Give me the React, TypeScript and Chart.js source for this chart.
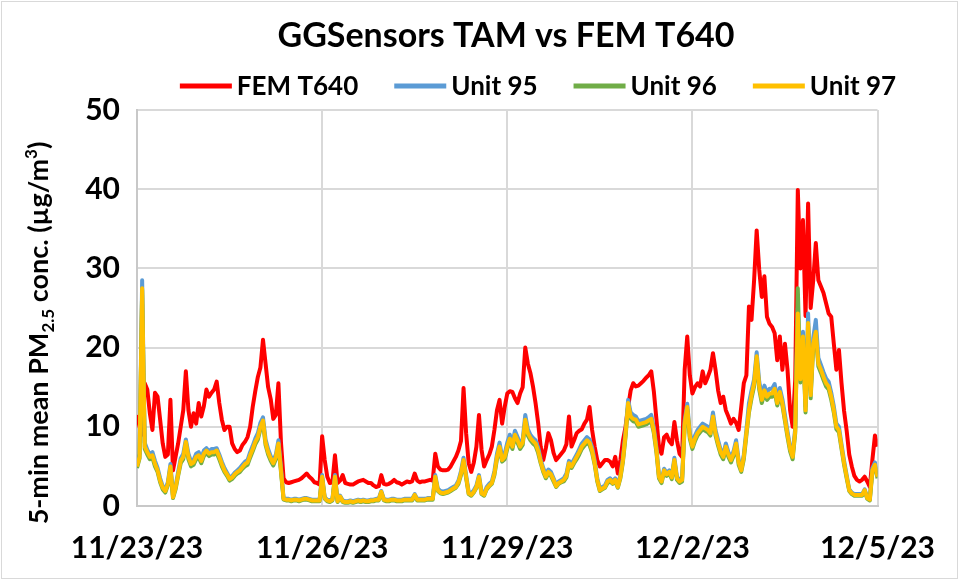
import React, { useEffect, useRef } from "react";
import { Chart, registerables } from "chart.js";

Chart.register(...registerables);

const FONT = "Lato, 'Open Sans', 'DejaVu Sans', sans-serif";
const TITLE = "GGSensors TAM vs FEM T640";
const SERIES_LABELS = ["FEM T640", "Unit 95", "Unit 96", "Unit 97"];
const SERIES_COLORS = ["#FF0000", "#5B9BD5", "#70AD47", "#FFC000"];
const X_TICK_DAYS = [0, 3, 6, 9, 12];
const X_TICK_LABELS = ["11/23/23", "11/26/23", "11/29/23", "12/2/23", "12/5/23"];
const Y_TICKS = [0, 10, 20, 30, 40, 50];
const HOURS_PER_DAY = 24;

// Hourly readings starting 11/23/23 00:00 (µg/m³)
const femT640 = [
  11.5, 10.0, 9.0, 15.5, 14.7, 11.7, 9.6, 14.3, 13.8, 10.9, 7.9, 6.2, 6.5, 13.4, 4.5, 6.2, 7.9, 10.0, 12.1, 17.0, 12.1, 10.0, 11.7, 10.4,
  13.0, 11.3, 12.6, 14.7, 13.8, 14.3, 14.7, 15.7, 13.0, 10.9, 9.6, 10.0, 10.0, 7.9, 7.2, 6.8, 7.0, 7.7, 8.1, 8.7, 10.0, 12.5, 14.5, 16.3,
  17.5, 21.0, 18.0, 15.0, 13.5, 11.0, 11.5, 15.5, 8.0, 3.5, 3.0, 2.9, 3.0, 3.1, 3.2, 3.3, 3.5, 3.8, 4.1, 3.7, 3.4, 3.0, 2.9, 2.7,
  8.8, 5.8, 3.7, 2.9, 3.0, 6.4, 2.9, 3.2, 3.9, 2.9, 2.8, 2.7, 2.7, 2.9, 3.1, 3.2, 3.3, 3.1, 2.9, 2.9, 2.6, 2.4, 2.5, 3.9,
  2.8, 2.7, 2.8, 3.0, 3.3, 3.0, 2.9, 2.7, 2.9, 3.1, 3.0, 3.1, 4.1, 3.2, 3.0, 3.1, 3.1, 3.2, 3.3, 3.2, 6.6, 5.0, 4.6, 4.5,
  4.5, 4.6, 5.0, 5.6, 6.2, 7.0, 8.2, 14.9, 9.2, 5.4, 4.3, 5.5, 7.5, 11.5, 7.1, 5.0, 5.8, 6.5, 7.5, 9.6, 12.1, 13.4, 10.4, 12.5,
  14.2, 14.5, 14.4, 13.6, 13.0, 14.2, 15.0, 20.0, 18.0, 16.8, 15.1, 13.0, 10.5, 7.5, 5.8, 7.3, 9.2, 8.3, 6.7, 5.8, 6.2, 6.6, 7.0, 7.8,
  11.3, 7.5, 8.3, 9.2, 9.5, 9.7, 10.4, 10.9, 12.5, 9.6, 7.5, 5.8, 5.0, 5.4, 5.8, 5.8, 5.6, 5.0, 6.2, 4.1, 5.8, 8.3, 10.0, 12.5,
  14.6, 15.5, 15.1, 15.2, 15.5, 15.8, 16.2, 16.5, 17.0, 14.5, 11.0, 7.5, 6.6, 8.7, 9.0, 8.2, 7.8, 10.6, 8.3, 6.6, 6.2, 17.2, 21.4, 16.5,
  14.2, 15.0, 15.5, 15.1, 17.0, 15.5, 16.3, 17.2, 19.3, 17.2, 14.6, 13.0, 13.8, 12.1, 11.3, 10.4, 11.0, 10.5, 9.6, 12.5, 15.5, 16.5, 25.2, 23.5,
  28.5, 34.8, 29.8, 26.4, 29.0, 23.9, 23.0, 22.6, 21.8, 18.4, 21.4, 17.2, 20.5, 17.2, 12.1, 10.0, 16.0, 39.9, 30.0, 36.1, 24.0, 38.2, 25.0, 28.5,
  33.2, 28.5, 27.7, 26.9, 25.6, 24.3, 23.9, 20.5, 17.2, 19.7, 15.5, 12.0, 9.5, 6.5, 5.0, 3.8, 3.3, 3.1, 3.3, 3.7, 3.1, 2.4, 5.8, 8.9,
  7.5,
];

const unit95 = [
  5.4, 6.6, 28.5, 8.0, 7.1, 6.5, 6.8, 5.7, 4.8, 3.5, 2.5, 2.1, 3.0, 5.3, 1.3, 2.5, 4.3, 6.0, 6.6, 8.4, 6.6, 5.6, 5.8, 6.6,
  6.8, 6.0, 7.0, 7.3, 6.9, 7.2, 7.2, 7.3, 6.5, 5.6, 4.8, 4.2, 3.6, 3.8, 4.2, 4.5, 4.8, 5.2, 5.6, 5.8, 6.8, 7.6, 8.5, 9.2,
  10.5, 11.2, 8.4, 7.2, 6.3, 5.7, 6.5, 8.3, 4.8, 1.0, 0.9, 0.9, 0.8, 0.9, 0.9, 0.8, 0.9, 1.0, 1.0, 0.9, 0.8, 0.8, 0.8, 0.8,
  3.9, 1.1, 0.8, 0.7, 0.9, 3.9, 0.7, 1.3, 0.7, 0.6, 0.6, 0.7, 0.6, 0.7, 0.8, 0.7, 0.8, 0.7, 0.7, 0.8, 0.8, 0.9, 0.9, 1.9,
  0.9, 0.8, 0.8, 0.9, 0.9, 0.8, 0.8, 0.8, 0.9, 0.9, 0.9, 0.9, 1.5, 0.9, 0.9, 0.9, 0.9, 1.0, 1.0, 1.0, 3.9, 2.2, 1.9, 1.8,
  1.9, 2.0, 2.2, 2.4, 2.6, 3.2, 4.4, 6.1, 3.9, 1.8, 1.6, 2.0, 2.6, 3.9, 1.8, 1.6, 2.4, 2.8, 3.1, 4.4, 6.6, 8.0, 6.2, 6.6,
  8.0, 9.0, 7.9, 9.5, 8.7, 7.9, 8.4, 11.5, 9.7, 9.0, 8.6, 8.3, 7.4, 5.9, 4.8, 4.0, 4.6, 4.3, 3.5, 2.7, 3.1, 3.3, 3.5, 4.1,
  5.7, 5.3, 5.9, 6.5, 7.2, 7.9, 8.3, 8.7, 8.4, 7.4, 5.7, 3.5, 2.2, 2.4, 2.6, 3.3, 3.5, 3.1, 3.5, 2.6, 3.9, 6.1, 9.4, 13.4,
  11.8, 11.5, 11.3, 10.7, 10.8, 10.9, 11.0, 11.2, 11.5, 9.9, 7.4, 3.9, 3.3, 4.7, 4.2, 4.5, 3.8, 6.1, 3.7, 3.3, 3.5, 10.8, 12.9, 9.2,
  7.9, 8.9, 9.6, 10.0, 10.4, 10.2, 10.0, 9.6, 11.8, 9.6, 8.3, 7.1, 6.5, 7.9, 6.8, 6.1, 6.9, 8.3, 5.8, 4.8, 6.5, 9.6, 13.0, 14.6,
  16.0, 19.4, 15.7, 13.9, 15.2, 14.3, 14.8, 14.8, 15.4, 13.5, 14.9, 13.5, 11.5, 9.4, 7.5, 6.5, 9.9, 25.0, 16.6, 22.0, 12.6, 24.3, 14.6, 21.2,
  23.5, 18.7, 17.8, 16.9, 16.1, 15.7, 14.3, 12.6, 10.4, 10.0, 7.8, 5.7, 3.9, 2.1, 1.7, 1.5, 1.5, 1.5, 1.5, 2.1, 1.1, 0.9, 4.8, 5.5,
  4.0,
];

const unit96 = [
  4.8, 6.0, 27.3, 7.2, 6.5, 5.9, 6.1, 5.0, 4.3, 3.0, 2.1, 1.7, 2.6, 4.8, 1.0, 2.1, 3.8, 5.4, 5.9, 7.8, 5.9, 5.0, 5.2, 5.9,
  6.1, 5.4, 6.3, 6.7, 6.3, 6.5, 6.5, 6.7, 5.9, 5.0, 4.3, 3.8, 3.2, 3.4, 3.8, 4.1, 4.3, 4.7, 5.0, 5.2, 6.1, 6.9, 7.8, 8.4,
  9.7, 10.5, 7.7, 6.5, 5.7, 5.1, 5.9, 7.6, 4.3, 0.8, 0.7, 0.7, 0.6, 0.7, 0.7, 0.6, 0.7, 0.8, 0.8, 0.7, 0.6, 0.6, 0.6, 0.6,
  3.5, 0.9, 0.6, 0.5, 0.7, 3.5, 0.5, 1.1, 0.5, 0.4, 0.4, 0.5, 0.4, 0.5, 0.6, 0.5, 0.6, 0.5, 0.5, 0.6, 0.6, 0.7, 0.7, 1.7,
  0.7, 0.6, 0.6, 0.7, 0.7, 0.6, 0.6, 0.6, 0.7, 0.7, 0.7, 0.7, 1.3, 0.7, 0.7, 0.7, 0.7, 0.8, 0.8, 0.8, 3.5, 1.9, 1.6, 1.5,
  1.6, 1.7, 1.9, 2.1, 2.3, 2.8, 3.9, 5.6, 3.5, 1.5, 1.3, 1.7, 2.3, 3.5, 1.5, 1.3, 2.1, 2.5, 2.8, 3.9, 5.9, 7.2, 5.6, 5.9,
  7.2, 8.2, 7.2, 8.7, 8.0, 7.2, 7.7, 10.6, 8.9, 8.3, 7.9, 7.6, 6.7, 5.4, 4.3, 3.5, 4.1, 3.8, 3.1, 2.4, 2.8, 3.0, 3.1, 3.6,
  5.2, 4.8, 5.4, 5.9, 6.5, 7.2, 7.6, 8.0, 7.7, 6.7, 5.2, 3.1, 1.9, 2.1, 2.3, 2.9, 3.1, 2.8, 3.1, 2.3, 3.5, 5.6, 8.7, 12.7,
  11.0, 10.7, 10.6, 10.0, 10.1, 10.2, 10.3, 10.5, 10.7, 9.2, 6.8, 3.5, 2.9, 4.3, 3.8, 4.1, 3.4, 5.6, 3.3, 2.9, 3.1, 10.1, 12.2, 8.5,
  7.2, 8.2, 8.9, 9.3, 9.7, 9.5, 9.3, 8.9, 11.0, 8.9, 7.6, 6.5, 5.9, 7.2, 6.2, 5.5, 6.3, 7.6, 5.2, 4.3, 5.9, 8.9, 11.8, 13.6,
  15.1, 18.6, 14.7, 13.0, 14.2, 13.4, 13.8, 13.8, 14.4, 12.7, 14.0, 12.7, 10.7, 8.7, 6.9, 5.9, 9.2, 27.5, 15.6, 21.0, 11.8, 22.7, 13.6, 20.1,
  21.5, 17.6, 16.8, 15.9, 15.1, 14.7, 13.4, 11.8, 9.7, 9.3, 7.2, 5.2, 3.5, 1.9, 1.5, 1.3, 1.3, 1.3, 1.3, 1.9, 0.9, 0.7, 4.3, 5.0,
  3.5,
];

const unit97 = [
  5.0, 6.2, 27.5, 7.5, 6.8, 6.2, 6.4, 5.3, 4.5, 3.2, 2.3, 1.9, 2.8, 5.0, 1.1, 2.3, 4.0, 5.7, 6.2, 8.1, 6.2, 5.3, 5.5, 6.2,
  6.4, 5.7, 6.6, 7.0, 6.6, 6.8, 6.8, 7.0, 6.2, 5.3, 4.5, 4.0, 3.4, 3.6, 4.0, 4.3, 4.5, 4.9, 5.3, 5.5, 6.4, 7.2, 8.1, 8.7,
  10.0, 10.8, 8.0, 6.8, 6.0, 5.4, 6.2, 7.9, 4.5, 0.9, 0.8, 0.8, 0.7, 0.8, 0.8, 0.7, 0.8, 0.9, 0.9, 0.8, 0.7, 0.7, 0.7, 0.7,
  3.7, 1.0, 0.7, 0.6, 0.8, 3.7, 0.6, 1.2, 0.6, 0.5, 0.5, 0.6, 0.5, 0.6, 0.7, 0.6, 0.7, 0.6, 0.6, 0.7, 0.7, 0.8, 0.8, 1.8,
  0.8, 0.7, 0.7, 0.8, 0.8, 0.7, 0.7, 0.7, 0.8, 0.8, 0.8, 0.8, 1.4, 0.8, 0.8, 0.8, 0.8, 0.9, 0.9, 0.9, 3.7, 2.0, 1.7, 1.6,
  1.7, 1.8, 2.0, 2.2, 2.4, 3.0, 4.1, 5.8, 3.7, 1.6, 1.4, 1.8, 2.4, 3.7, 1.6, 1.4, 2.2, 2.6, 2.9, 4.1, 6.2, 7.5, 5.8, 6.2,
  7.5, 8.5, 7.5, 9.0, 8.3, 7.5, 8.0, 10.9, 9.2, 8.6, 8.2, 7.9, 7.0, 5.6, 4.5, 3.7, 4.3, 4.0, 3.3, 2.5, 2.9, 3.1, 3.3, 3.8,
  5.4, 5.0, 5.6, 6.2, 6.8, 7.5, 7.9, 8.3, 8.0, 7.0, 5.4, 3.3, 2.0, 2.2, 2.4, 3.1, 3.3, 2.9, 3.3, 2.4, 3.7, 5.8, 9.0, 13.0,
  11.3, 11.0, 10.9, 10.3, 10.4, 10.5, 10.6, 10.8, 11.0, 9.5, 7.1, 3.7, 3.1, 4.5, 4.0, 4.3, 3.6, 5.8, 3.5, 3.1, 3.3, 10.4, 12.5, 8.8,
  7.5, 8.5, 9.2, 9.6, 10.0, 9.8, 9.6, 9.2, 11.3, 9.2, 7.9, 6.8, 6.2, 7.5, 6.5, 5.8, 6.6, 7.9, 5.5, 4.5, 6.2, 9.2, 12.1, 14.0,
  15.5, 18.9, 15.1, 13.4, 14.6, 13.8, 14.2, 14.2, 14.8, 13.0, 14.4, 13.0, 11.0, 9.0, 7.2, 6.2, 9.5, 24.3, 16.0, 21.4, 12.1, 23.1, 14.0, 20.5,
  22.0, 18.0, 17.2, 16.3, 15.5, 15.1, 13.8, 12.1, 10.0, 9.6, 7.5, 5.4, 3.7, 2.0, 1.6, 1.4, 1.4, 1.4, 1.4, 2.0, 1.0, 0.8, 4.5, 5.2,
  3.7,
];

const SERIES_VALUES = [femT640, unit95, unit96, unit97];
const DRAW_ORDER = [4, 3, 2, 1]; // Unit 97 on top, FEM at the bottom

const overlayPlugin = {
  id: "overlay",
  afterDraw(chart: any) {
    const ctx = chart.ctx as CanvasRenderingContext2D;
    ctx.save();
    // outer frame
    ctx.strokeStyle = "#d9d9d9";
    ctx.lineWidth = 1;
    ctx.strokeRect(1.5, 1.5, chart.width - 3, chart.height - 3);

    // title
    ctx.fillStyle = "#000";
    ctx.font = `bold 34px ${FONT}`;
    ctx.textAlign = "center";
    ctx.textBaseline = "middle";
    ctx.fillText(TITLE, 506, 36);

    // legend
    ctx.font = `bold 26px ${FONT}`;
    ctx.textAlign = "left";
    const lineLen = 52;
    const gap = 5;
    const spacing = 36;
    const widths = SERIES_LABELS.map((l) => ctx.measureText(l).width);
    const total =
      widths.reduce((a, b) => a + b, 0) +
      SERIES_LABELS.length * (lineLen + gap) +
      (SERIES_LABELS.length - 1) * spacing;
    let x = 538 - total / 2;
    const ly = 86;
    SERIES_LABELS.forEach((label, i) => {
      ctx.strokeStyle = SERIES_COLORS[i];
      ctx.lineWidth = 5;
      ctx.beginPath();
      ctx.moveTo(x, ly);
      ctx.lineTo(x + lineLen, ly);
      ctx.stroke();
      x += lineLen + gap;
      ctx.fillStyle = "#000";
      ctx.fillText(label, x, ly + 1);
      x += widths[i] + spacing;
    });

    // rotated y-axis title with sub/superscripts
    const segs = [
      { t: "5-min mean PM", s: 27, dy: 0 },
      { t: "2.5", s: 17, dy: 6 },
      { t: " conc. (µg/m", s: 27, dy: 0 },
      { t: "3", s: 17, dy: -11 },
      { t: ")", s: 27, dy: 0 },
    ];
    ctx.textBaseline = "alphabetic";
    let tw = 0;
    const sw = segs.map((sg) => {
      ctx.font = `bold ${sg.s}px ${FONT}`;
      const w = ctx.measureText(sg.t).width;
      tw += w;
      return w;
    });
    ctx.translate(48, 333);
    ctx.rotate(-Math.PI / 2);
    let u = -tw / 2;
    segs.forEach((sg, i) => {
      ctx.font = `bold ${sg.s}px ${FONT}`;
      ctx.fillText(sg.t, u, sg.dy);
      u += sw[i];
    });
    ctx.restore();
  },
};

export default function App() {
  const canvasRef = useRef<HTMLCanvasElement | null>(null);

  useEffect(() => {
    if (!canvasRef.current) return;
    const datasets = SERIES_VALUES.map((vals, si) => ({
      label: SERIES_LABELS[si],
      data: vals.map((v, i) => ({ x: i / HOURS_PER_DAY, y: v })),
      borderColor: SERIES_COLORS[si],
      backgroundColor: SERIES_COLORS[si],
      borderWidth: 4,
      pointRadius: 0,
      tension: 0,
      borderJoinStyle: "round" as const,
      order: DRAW_ORDER[si],
    }));
    const tickFont = { family: FONT, size: 30, weight: "bold" as const };
    const chart = new Chart(canvasRef.current, {
      type: "line",
      data: { datasets },
      options: {
        responsive: false,
        animation: false,
        layout: { padding: { top: 110, right: 69, left: 0, bottom: 0 } },
        plugins: {
          legend: { display: false },
          title: { display: false },
          tooltip: { enabled: false },
        },
        scales: {
          x: {
            type: "linear",
            min: X_TICK_DAYS[0],
            max: X_TICK_DAYS[X_TICK_DAYS.length - 1],
            afterFit: (s: any) => {
              s.height = 74;
            },
            afterBuildTicks: (s: any) => {
              s.ticks = X_TICK_DAYS.map((v) => ({ value: v }));
            },
            ticks: {
              autoSkip: false,
              maxRotation: 0,
              padding: 24,
              color: "#000",
              font: tickFont,
              callback: (v: any) => {
                const idx = X_TICK_DAYS.indexOf(Number(v));
                return idx >= 0 ? X_TICK_LABELS[idx] : "";
              },
            },
            grid: { color: "#d9d9d9", lineWidth: 2, drawTicks: false },
            border: { display: true, color: "#c8c8c8", width: 2 },
          },
          y: {
            min: Y_TICKS[0],
            max: Y_TICKS[Y_TICKS.length - 1],
            afterFit: (s: any) => {
              s.width = 137;
            },
            afterBuildTicks: (s: any) => {
              s.ticks = Y_TICKS.map((v) => ({ value: v }));
            },
            ticks: { padding: 17, color: "#000", font: tickFont },
            grid: { color: "#d9d9d9", lineWidth: 2, drawTicks: false },
            border: { display: true, color: "#c8c8c8", width: 2 },
          },
        },
      },
      plugins: [overlayPlugin],
    });
    return () => chart.destroy();
  }, []);

  return (
    <canvas
      ref={canvasRef}
      width={959}
      height={580}
      style={{ position: "absolute", left: 0, top: 0, display: "block", background: "#fff" }}
    />
  );
}
